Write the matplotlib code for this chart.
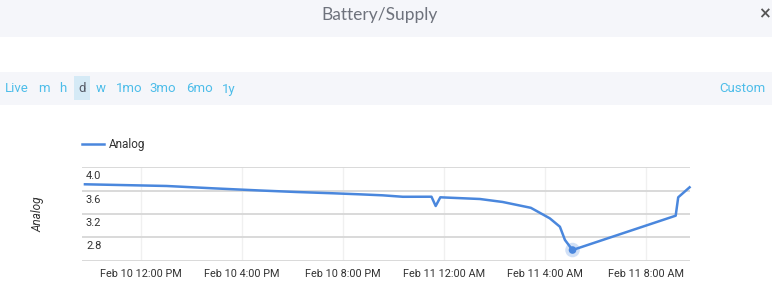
import matplotlib
matplotlib.use("Agg")
import matplotlib.pyplot as plt
from matplotlib.patches import Rectangle
from datetime import datetime

# ---- data ----
times = ["2020-02-10 09:48", "2020-02-10 13:02", "2020-02-10 14:52", "2020-02-10 16:43",
         "2020-02-10 18:10", "2020-02-10 19:37", "2020-02-10 20:41", "2020-02-10 21:35",
         "2020-02-10 22:23", "2020-02-10 23:31", "2020-02-10 23:41", "2020-02-10 23:52",
         "2020-02-11 01:26", "2020-02-11 02:20", "2020-02-11 03:27", "2020-02-11 04:12",
         "2020-02-11 04:36", "2020-02-11 04:48", "2020-02-11 05:06", "2020-02-11 09:11",
         "2020-02-11 09:17", "2020-02-11 09:44"]
values = [3.709, 3.680, 3.640, 3.603, 3.577, 3.555, 3.537, 3.520, 3.495, 3.496, 3.337,
          3.486, 3.457, 3.406, 3.306, 3.126, 2.982, 2.755, 2.583, 3.171, 3.486, 3.657]
series_name = "Analog"
y_ticks = [2.4, 2.8, 3.2, 3.6, 4.0]
y_labels = ["", "2.8", "3.2", "3.6", "4.0"]
x_ticks = ["2020-02-10 12:00", "2020-02-10 16:00", "2020-02-10 20:00",
           "2020-02-11 00:00", "2020-02-11 04:00", "2020-02-11 08:00"]
x_labels = ["Feb 10 12:00 PM", "Feb 10 4:00 PM", "Feb 10 8:00 PM",
            "Feb 11 12:00 AM", "Feb 11 4:00 AM", "Feb 11 8:00 AM"]
x_range = ["2020-02-10 09:41", "2020-02-11 09:45"]
buttons = ["Live", "m", "h", "d", "w", "1mo", "3mo", "6mo", "1y"]
button_x = [17, 44, 63, 82, 101, 129, 163, 199, 229]
active_button = "d"
title = "Battery/Supply"

fmt = "%Y-%m-%d %H:%M"
t = [datetime.strptime(s, fmt) for s in times]
xt = [datetime.strptime(s, fmt) for s in x_ticks]
xr = [datetime.strptime(s, fmt) for s in x_range]

W, H = 772, 304
fig = plt.figure(figsize=(W / 100, H / 100), dpi=100)
fig.patch.set_facecolor("white")

def fx(px):
    return px / W

def fy(py):
    return 1 - py / H

# header bands
band = "#f5f6fa"
fig.patches.append(Rectangle((0, fy(37)), 1, 37 / H, transform=fig.transFigure,
                             facecolor=band, edgecolor="none", zorder=0))
fig.patches.append(Rectangle((0, fy(104.5)), 1, 32.5 / H, transform=fig.transFigure,
                             facecolor=band, edgecolor="none", zorder=0))
fig.text(fx(380), fy(15), title, ha="center", va="center", fontsize=12.5,
         color="#6e727c", family="Lato", fontweight="normal")
fig.text(fx(764), fy(14), "×", ha="center", va="center", fontsize=11,
         color="#555555", fontweight="bold", family="DejaVu Sans")

blue_txt = "#4dbde9"
for lab, bx in zip(buttons, button_x):
    if lab == active_button:
        fig.patches.append(Rectangle((fx(73.5), fy(99.5)), 16.5 / W, 23 / H,
                                     transform=fig.transFigure, facecolor="#d5eaf6",
                                     edgecolor="none", zorder=1))
        col = "#555a66"
    else:
        col = blue_txt
    fig.text(fx(bx), fy(89), lab, ha="center", va="center", fontsize=9.5,
             color=col, family="Roboto", zorder=2)
fig.text(fx(766), fy(89), "Custom", ha="right", va="center", fontsize=9.5,
         color=blue_txt, family="Roboto")

# axes
left, right, top, bottom = 82, 690, 167.3, 260.7
ax = fig.add_axes([fx(left), fy(bottom), (right - left) / W, (bottom - top) / H])
ax.set_facecolor("none")
ax.set_xlim(xr[0], xr[1])
ax.set_ylim(y_ticks[0], y_ticks[-1])
for s in ax.spines.values():
    s.set_visible(False)
ax.set_yticks(y_ticks)
ax.set_yticklabels([])
ax.tick_params(axis="y", length=0)
ax.set_xticks(xt)
ax.set_xticklabels(x_labels, fontsize=7.8, color="#333333", family="Roboto")
ax.tick_params(axis="x", length=0, pad=6)
ax.grid(axis="y", color="#d9d9d9", linewidth=1.4)
ax.grid(axis="x", color="#f0f0f0", linewidth=1.0)
ax.set_axisbelow(True)

for v, lab in zip(y_ticks, y_labels):
    if lab:
        ax.annotate(lab, xy=(0, v), xycoords=("axes fraction", "data"),
                    xytext=(4, -9), textcoords="offset pixels", ha="left", va="center",
                    fontsize=8, color="#333333", family="Roboto")

line_color = "#4a87dd"
ax.plot(t, values, color=line_color, linewidth=1.8, solid_joinstyle="round", zorder=3,
        clip_on=False)
imin = values.index(min(values))
ax.scatter([t[imin]], [values[imin]], s=110, color=line_color, alpha=0.25,
           edgecolors="none", zorder=4, clip_on=False)
ax.scatter([t[imin]], [values[imin]], s=30, color=line_color, edgecolors="none",
           zorder=5, clip_on=False)

ax.set_ylabel(series_name, fontsize=8.5, style="italic", color="#333333",
              family="Roboto", labelpad=0)
ax.yaxis.set_label_coords(fx(44 - left) / ((right - left) / W), 0.5)

# legend
fig.lines.append(plt.Line2D([fx(82), fx(104)], [fy(144), fy(144)], transform=fig.transFigure,
                            color=line_color, linewidth=1.8))
fig.text(fx(109), fy(144.5), series_name, ha="left", va="center", fontsize=8.5,
         color="#333333", family="Roboto")

fig.savefig("out.png", dpi=100)
